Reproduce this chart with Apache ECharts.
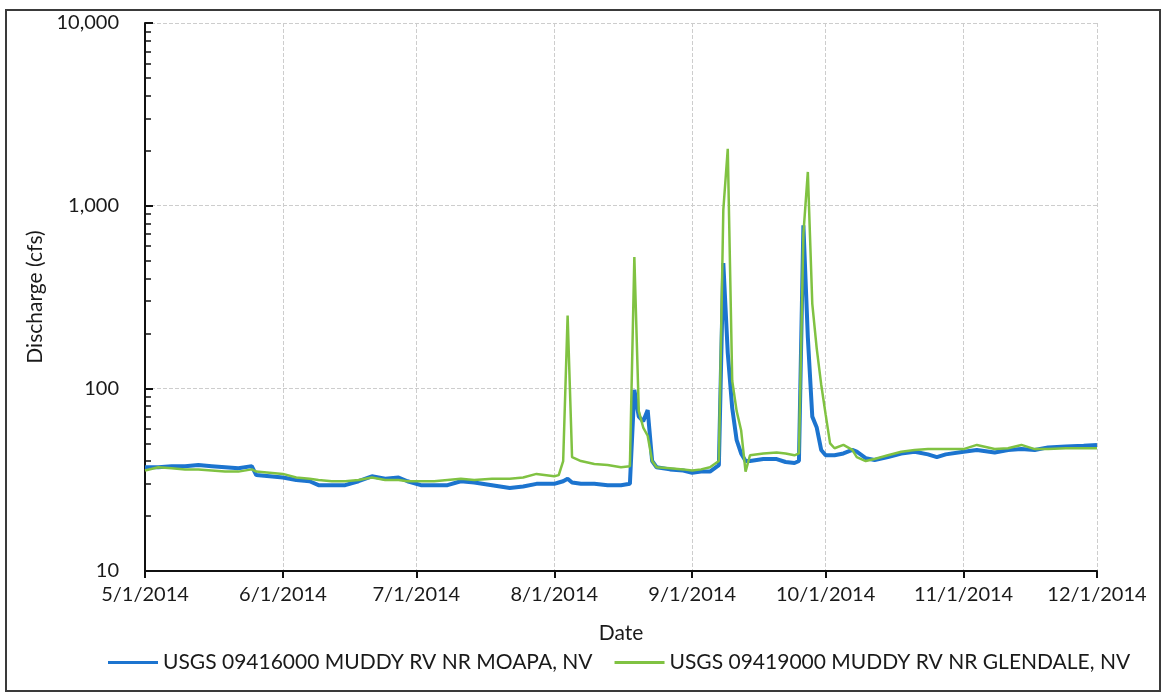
<!DOCTYPE html>
<html>
<head>
<meta charset="utf-8">
<script src="https://cdn.jsdelivr.net/npm/echarts@6/dist/echarts.min.js"></script>
<style>
  html, body { margin: 0; padding: 0; background: #fff; }
  #frame { position: absolute; left: 5px; top: 9px; width: 1152px; height: 679px; border: 2px solid #3a3a3a; }
  #chart { position: absolute; left: 0; top: 0; width: 1165px; height: 698px; }
</style>
</head>
<body>
<div id="frame"></div>
<div id="chart"></div>
<script>
// daily mean discharge (cfs)
var dates = [
  '2014-05-01', '2014-05-04', '2014-05-07', '2014-05-10', '2014-05-13', '2014-05-16', '2014-05-19', '2014-05-22', '2014-05-25', '2014-05-26',
  '2014-05-29', '2014-06-01', '2014-06-04', '2014-06-07', '2014-06-09', '2014-06-12', '2014-06-15', '2014-06-18', '2014-06-21', '2014-06-24',
  '2014-06-27', '2014-06-29', '2014-07-02', '2014-07-05', '2014-07-08', '2014-07-11', '2014-07-14', '2014-07-18', '2014-07-22', '2014-07-25',
  '2014-07-28', '2014-08-01', '2014-08-02', '2014-08-03', '2014-08-04', '2014-08-05', '2014-08-07', '2014-08-10', '2014-08-13', '2014-08-16',
  '2014-08-18', '2014-08-19', '2014-08-20', '2014-08-21', '2014-08-22', '2014-08-23', '2014-08-24', '2014-08-27', '2014-08-30', '2014-09-01',
  '2014-09-03', '2014-09-05', '2014-09-07', '2014-09-08', '2014-09-09', '2014-09-10', '2014-09-11', '2014-09-12', '2014-09-13', '2014-09-14',
  '2014-09-17', '2014-09-20', '2014-09-22', '2014-09-24', '2014-09-25', '2014-09-26', '2014-09-27', '2014-09-28', '2014-09-29', '2014-09-30',
  '2014-10-01', '2014-10-02', '2014-10-03', '2014-10-05', '2014-10-07', '2014-10-08', '2014-10-10', '2014-10-12', '2014-10-15', '2014-10-18',
  '2014-10-21', '2014-10-24', '2014-10-26', '2014-10-28', '2014-11-01', '2014-11-04', '2014-11-08', '2014-11-11', '2014-11-14', '2014-11-17',
  '2014-11-20', '2014-11-24', '2014-11-28', '2014-12-01'
];

var moapa = [
  37, 37, 37.5, 37.5, 38, 37.5, 37, 36.5, 37.5, 33.5,
  33, 32.5, 31.5, 31, 29.5, 29.5, 29.5, 31, 33, 32,
  32.5, 31, 29.5, 29.5, 29.5, 31, 30.5, 29.5, 28.5, 29,
  30, 30, 30.5, 31, 32, 30.5, 30, 30, 29.5, 29.5,
  30, 98, 70, 66, 76, 40, 37, 36, 35.5, 34.5,
  35, 35, 38, 485, 156, 78, 52, 44, 40, 40,
  41, 41, 39.5, 39, 40, 780, 190, 70, 61, 46,
  43, 43, 43, 44, 46, 45, 41.5, 40.5, 42, 44,
  45, 43.5, 42, 43.5, 45, 46, 44.5, 46, 46.5, 46,
  47.5, 48, 48.5, 49
];

var glendale = [
  35.5, 37, 36.5, 36, 36, 35.5, 35, 35, 36, 35,
  34.5, 34, 32.5, 32, 31.5, 31, 31, 31.5, 32.5, 31.5,
  31.5, 31, 31, 31, 31.5, 32, 31.5, 32, 32, 32.5,
  34, 33, 33.5, 40, 250, 42, 40, 38.5, 38, 37,
  37.5, 524, 75, 61, 55, 40, 37, 36.5, 36, 35.5,
  36, 37, 40, 950, 2050, 110, 75, 59, 35, 43,
  44, 44.5, 44, 43, 44, 700, 1530, 290, 165, 105,
  72, 50, 47, 49, 46, 42, 40, 41, 43, 45,
  46, 46.5, 46.5, 46.5, 46.5, 49, 46.5, 47, 49, 46.5,
  46.5, 47, 47, 47
];

var seriesNames = ['USGS 09416000 MUDDY RV NR MOAPA, NV', 'USGS 09419000 MUDDY RV NR GLENDALE, NV'];

function pairs(values) {
  return dates.map(function (d, i) { return [d, values[i]]; });
}

var chartDom = document.getElementById('chart');
var myChart = echarts.init(chartDom);
var font = 'Lato, "Open Sans", sans-serif';

var option = {
  animation: false,
  grid: { left: 145, right: 68, top: 23, bottom: 127 },
  legend: {
    data: seriesNames,
    bottom: 20,
    left: 103,
    icon: 'rect',
    itemWidth: 50,
    itemHeight: 3,
    itemGap: 22,
    textStyle: { fontFamily: font, fontSize: 21, color: '#1a1a1a' }
  },
  xAxis: {
    type: 'time',
    min: '2014-05-01',
    max: '2014-12-01',
    minInterval: 28 * 86400000,
    maxInterval: 31 * 86400000,
    name: 'Date',
    nameLocation: 'middle',
    nameGap: 52,
    nameTextStyle: { fontFamily: font, fontSize: 21, color: '#1a1a1a' },
    axisLine: { lineStyle: { color: '#111', width: 2 } },
    axisTick: { show: true, length: 7, lineStyle: { color: '#111', width: 2 } },
    axisLabel: {
      fontFamily: font, fontSize: 20, color: '#1a1a1a', margin: 14,
      showMaxLabel: true,
      formatter: function (v) {
        var d = new Date(v);
        return (d.getMonth() + 1) + '/' + d.getDate() + '/' + d.getFullYear();
      }
    },
    splitLine: { show: true, lineStyle: { color: '#cdcdcd', type: 'dashed', width: 1 } }
  },
  yAxis: {
    type: 'log',
    logBase: 10,
    min: 10,
    max: 10000,
    name: 'Discharge (cfs)',
    nameLocation: 'middle',
    nameGap: 80,
    nameTextStyle: { fontFamily: font, fontSize: 21, color: '#1a1a1a' },
    axisLine: { show: true, lineStyle: { color: '#111', width: 2 } },
    axisTick: { show: true, inside: true, length: 8, lineStyle: { color: '#111', width: 2 } },
    minorTick: { show: true, splitNumber: 9, length: 6, lineStyle: { color: '#111', width: 1.5 } },
    axisLabel: {
      fontFamily: font, fontSize: 20, color: '#1a1a1a', margin: 26,
      formatter: function (v) { return Math.round(v).toLocaleString('en-US'); }
    },
    splitLine: { show: true, lineStyle: { color: '#cdcdcd', type: 'dashed', width: 1 } }
  },
  series: [
    {
      name: seriesNames[0],
      type: 'line',
      data: pairs(moapa),
      showSymbol: false,
      itemStyle: { color: '#1c74cf' },
      lineStyle: { color: '#1c74cf', width: 4 }
    },
    {
      name: seriesNames[1],
      type: 'line',
      data: pairs(glendale),
      showSymbol: false,
      itemStyle: { color: '#80c242' },
      lineStyle: { color: '#80c242', width: 2.5 }
    }
  ]
};

option && myChart.setOption(option);
</script>
</body>
</html>
